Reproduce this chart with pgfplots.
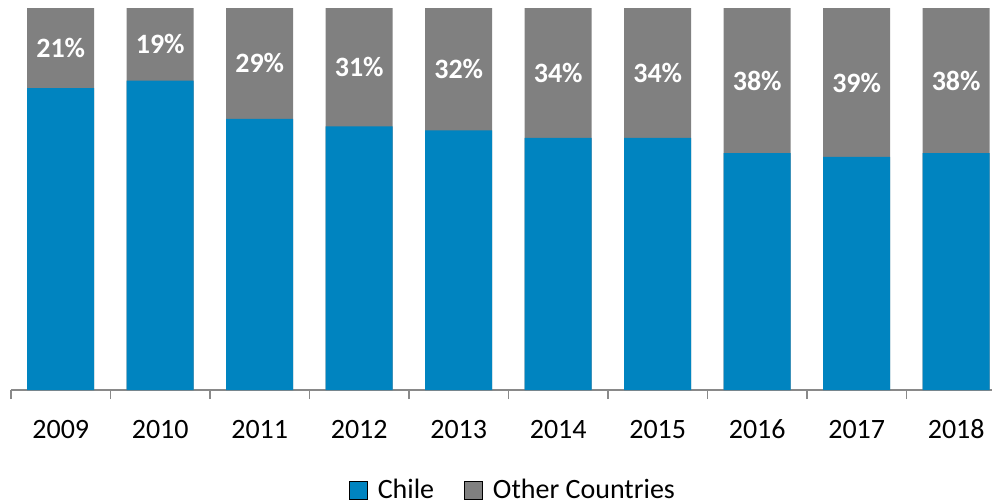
\documentclass[border=0pt]{standalone}
\usepackage{pgfplots}
\pgfplotsset{compat=1.18}
\usepackage{fontspec}
\setmainfont{Carlito}
\definecolor{chileblue}{RGB}{0,132,192}
\definecolor{othergray}{RGB}{128,128,128}
\definecolor{axisgray}{RGB}{137,137,137}
\begin{document}
\begin{tikzpicture}
\begin{axis}[
  at={(0pt,0pt)}, anchor=south west,
  width=490.5pt, height=195pt, scale only axis,
  xmin=-0.5, xmax=9.36, ymin=0, ymax=102.1,
  hide y axis,
  axis x line=bottom,
  x axis line style={-, draw=axisgray, line width=0.75pt},
  xtick={0,...,9},
  xticklabels={2009,2010,2011,2012,2013,2014,2015,2016,2017,2018},
  major tick length=0pt,
  minor xtick={-0.5,0.5,...,8.5},
  minor tick length=4.5pt,
  tick align=outside,
  minor tick style={draw=axisgray, line width=0.75pt},
  xticklabel style={anchor=base, yshift=-24pt, font=\fontsize{14}{16}\selectfont},
  legend style={at={(0.5127,-0.2564)}, anchor=center, draw=none, fill=none,
    legend columns=2, font=\fontsize{14}{16}\selectfont,
    /tikz/every even column/.style={column sep=13pt}},
  legend cell align=left,
  legend image code/.code={\fill[#1] (0pt,-4.5pt) rectangle (9pt,4.5pt); \path (12pt,0pt);},
]
\addlegendimage{fill=chileblue}
\addlegendentry{Chile}
\addlegendimage{fill=othergray}
\addlegendentry{Other Countries}

% Other Countries (full bar, overlaid by Chile share)
\addplot[ybar, bar width=33.5pt, bar shift=0pt, fill=othergray, draw=none, forget plot]
  coordinates {(0,100) (1,100) (2,100) (3,100) (4,100) (5,100) (6,100) (7,100) (8,100) (9,100)};
% Chile share
\addplot[ybar, bar width=33.5pt, bar shift=0pt, fill=chileblue, draw=none, forget plot]
  coordinates {(0,79) (1,81) (2,71) (3,69) (4,68) (5,66) (6,66) (7,62) (8,61) (9,62)};
% labels: other countries share, centred in grey segment
\addplot[draw=none, forget plot, nodes near coords={\pgfplotspointmeta\%},
  point meta=explicit symbolic,
  nodes near coords style={anchor=center, text=white, font=\bfseries\fontsize{14}{16}\selectfont}]
  table[meta=lab] {
x y lab
0 89.5 21
1 90.5 19
2 85.5 29
3 84.5 31
4 84 32
5 83 34
6 83 34
7 81 38
8 80.5 39
9 81 38
};
\end{axis}
\pgfresetboundingbox
\useasboundingbox (-5.5pt,-57pt) rectangle (490.5pt,195pt);
\end{tikzpicture}
\end{document}
